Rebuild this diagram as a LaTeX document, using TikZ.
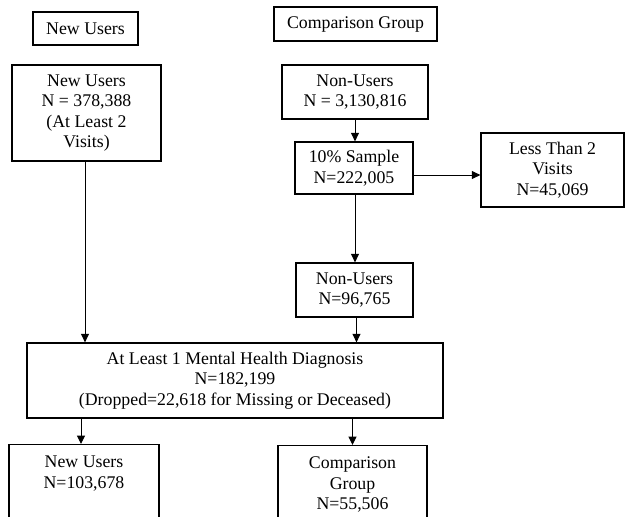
\documentclass[tikz,border=0pt]{standalone}
\usepackage{fontspec}
\setmainfont{Liberation Serif}
\usetikzlibrary{arrows.meta}
\begin{document}
\begin{tikzpicture}[x=1pt,y=-1pt,
  box/.style={draw, line width=1.3pt, align=center, inner sep=0pt, font=\fontsize{17.8}{20.5}\selectfont},
  txt/.style={align=center, inner sep=0pt, font=\fontsize{17.8}{20.5}\selectfont},
  arr/.style={line width=1pt, draw=black, -{Triangle[length=8.5pt,width=8pt]}}]
\useasboundingbox (0,0) rectangle (625,517);
\clip (0,0) rectangle (625,517);
\node[box, minimum width=105pt, minimum height=33pt] (hdrNew) at (85.5,28.5) {New Users};
\node[box, minimum width=163pt, minimum height=34pt] (hdrComp) at (355.5,24) {Comparison Group};
\node[box, minimum width=149pt, minimum height=96pt] (newUsers) at (86.5,113) {New Users\\N = 378,388\\(At Least 2\\Visits)};
\node[box, minimum width=146pt, minimum height=54pt] (nonUsers) at (355,92) {Non-Users\\N = 3,130,816};
\node[box, minimum width=118pt, minimum height=52pt] (sample) at (354,168) {10\% Sample\\N=222,005};
\node[box, minimum width=143pt, minimum height=74pt] (less) at (552.5,170) {Less Than 2\\Visits\\N=45,069};
\node[box, minimum width=117pt, minimum height=54pt] (nonUsers2) at (354.5,290) {Non-Users\\N=96,765};
\node[box, minimum width=416pt, minimum height=75pt] (main) at (235,380.5) {At Least 1 Mental Health Diagnosis\\N=182,199\\(Dropped=22,618 for Missing or Deceased)};
\node[box, minimum width=150pt, minimum height=100pt, anchor=north] (bl) at (84,444) {};
\node[txt, anchor=north] (blText) at ([yshift=-12pt]bl.north) {New Users\\N=103,678};
\node[box, minimum width=149pt, minimum height=100pt, anchor=north] (br) at (352.5,445) {};
\node[txt, anchor=north] (brText) at ([yshift=-12pt]br.north) {Comparison\\Group\\N=55,506};
\draw[arr] ([xshift=-1.5pt]newUsers.south) -- ([xshift=-1.5pt]newUsers.south |- main.north);
\draw[arr] (nonUsers.south) -- (nonUsers.south |- sample.north);
\draw[arr] ([yshift=-7pt]sample.east) -- ([yshift=-7pt]sample.east -| less.west);
\draw[arr] ([xshift=1pt]sample.south) -- ([xshift=1pt]sample.south |- nonUsers2.north);
\draw[arr] ([xshift=2pt]nonUsers2.south) -- ([xshift=2pt]nonUsers2.south |- main.north);
\draw[arr] ([xshift=-3pt]bl.north |- main.south) -- ([xshift=-3pt]bl.north);
\draw[arr] (br.north |- main.south) -- (br.north);
\end{tikzpicture}
\end{document}
